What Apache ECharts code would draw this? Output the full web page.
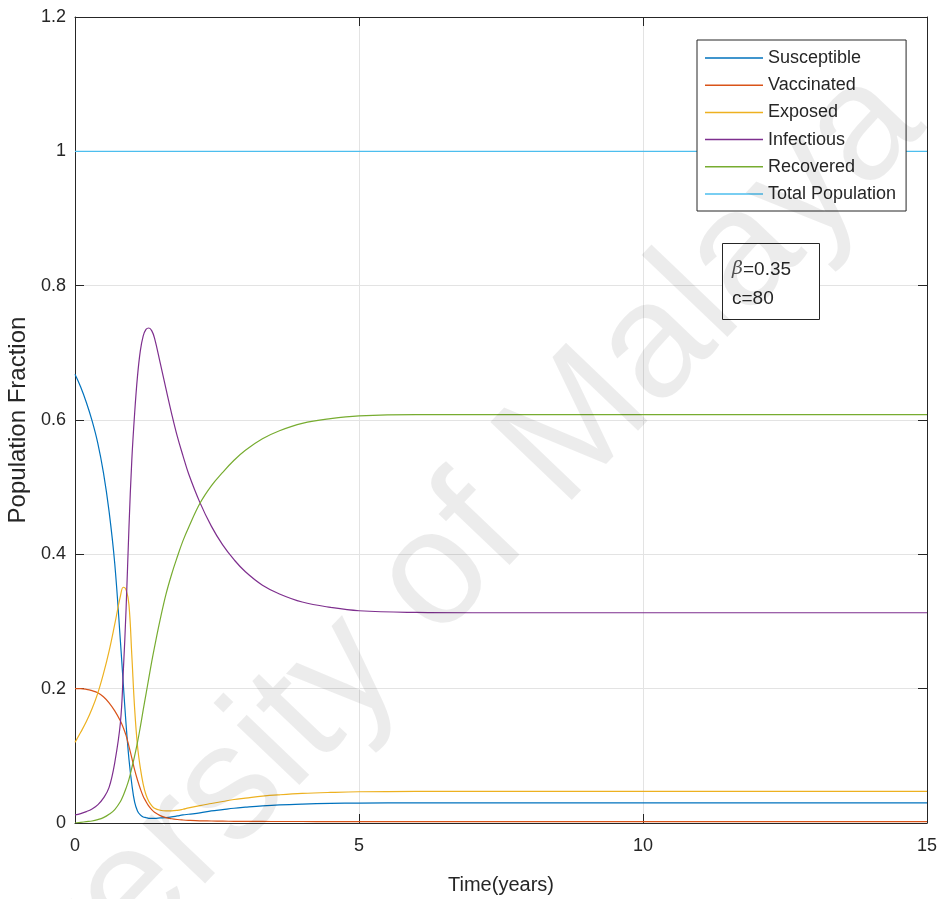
<!DOCTYPE html>
<html>
<head>
<meta charset="utf-8">
<script src="https://cdn.jsdelivr.net/npm/echarts@6/dist/echarts.min.js"></script>
<style>
  html, body { margin: 0; padding: 0; background: #fff; }
  #chart { width: 946px; height: 899px; }
</style>
</head>
<body>
<div id="chart"></div>
<script>
// Time samples (years) shared by the compartment curves
const timeYears = [0, 0.1, 0.2, 0.3, 0.4, 0.5, 0.6, 0.7, 0.8, 0.85, 0.9, 0.95, 1.0, 1.05, 1.1, 1.15, 1.2, 1.25, 1.3, 1.35, 1.4, 1.5, 1.6, 1.7, 1.8, 1.9, 2.0, 2.2, 2.4, 2.6, 2.8, 3.0, 3.3, 3.6, 4.0, 4.5, 5, 6, 7, 8, 10, 12, 15];

const susceptible = [0.668, 0.649, 0.626, 0.599, 0.566, 0.522, 0.464, 0.386, 0.27, 0.207, 0.146, 0.095, 0.058, 0.031, 0.018, 0.012, 0.009, 0.008, 0.007, 0.007, 0.007, 0.0075, 0.008, 0.009, 0.0105, 0.012, 0.013, 0.015, 0.018, 0.020, 0.022, 0.0235, 0.0255, 0.027, 0.0282, 0.0292, 0.0297, 0.030, 0.030, 0.030, 0.030, 0.030, 0.030];

const vaccinated = [0.2, 0.2, 0.199, 0.197, 0.194, 0.188, 0.179, 0.167, 0.152, 0.142, 0.13, 0.114, 0.097, 0.079, 0.064, 0.051, 0.040, 0.032, 0.025, 0.020, 0.016, 0.011, 0.008, 0.0063, 0.0052, 0.0045, 0.004, 0.0033, 0.003, 0.0027, 0.0025, 0.0024, 0.0023, 0.0022, 0.0022, 0.0021, 0.0021, 0.002, 0.002, 0.002, 0.002, 0.002, 0.002];

const exposed = [0.12, 0.135, 0.151, 0.17, 0.193, 0.222, 0.256, 0.296, 0.338, 0.351, 0.347, 0.325, 0.25, 0.17, 0.115, 0.082, 0.058, 0.042, 0.032, 0.026, 0.022, 0.019, 0.018, 0.018, 0.0188, 0.0205, 0.0225, 0.026, 0.029, 0.032, 0.035, 0.037, 0.040, 0.042, 0.044, 0.0455, 0.0465, 0.047, 0.0472, 0.0472, 0.0472, 0.0472, 0.0472];

const infectious = [0.012, 0.014, 0.017, 0.021, 0.027, 0.037, 0.053, 0.09, 0.15, 0.225, 0.32, 0.44, 0.54, 0.61, 0.665, 0.703, 0.725, 0.735, 0.737, 0.733, 0.722, 0.685, 0.647, 0.61, 0.576, 0.547, 0.52, 0.477, 0.442, 0.414, 0.392, 0.374, 0.354, 0.341, 0.329, 0.321, 0.316, 0.3135, 0.313, 0.313, 0.313, 0.313, 0.313];

const recovered = [0, 0.001, 0.002, 0.003, 0.005, 0.008, 0.013, 0.020, 0.032, 0.041, 0.052, 0.065, 0.082, 0.10, 0.12, 0.143, 0.168, 0.192, 0.216, 0.24, 0.262, 0.303, 0.34, 0.37, 0.396, 0.42, 0.44, 0.476, 0.502, 0.522, 0.540, 0.555, 0.572, 0.584, 0.595, 0.602, 0.606, 0.608, 0.608, 0.608, 0.608, 0.608, 0.608];

const totalTimes = [0, 15];
const totalPopulation = [1, 1];

const seriesNames = ['Susceptible', 'Vaccinated', 'Exposed', 'Infectious', 'Recovered', 'Total Population'];
const seriesColors = ['#0072BD', '#D95319', '#EDB120', '#7E2F8E', '#77AC30', '#4DBEEE'];

const xTicks = [0, 5, 10, 15];
const yTicks = [0, 0.2, 0.4, 0.6, 0.8, 1, 1.2];

const paramLines = ['β=0.35', 'c=80'];
const watermarkText = 'University of Malaya';

const zip = (xs, ys) => xs.map((x, i) => [x, ys[i]]);
const curveValues = [susceptible, vaccinated, exposed, infectious, recovered];

const FONT = '"Liberation Sans", Arial, Helvetica, sans-serif';
const AXIS = '#262626';

const chart = echarts.init(document.getElementById('chart'), null, { renderer: 'canvas' });

const seriesList = curveValues.map((vals, i) => ({
  name: seriesNames[i],
  type: 'line',
  data: zip(timeYears, vals),
  showSymbol: false,
  smooth: 0.4,
  lineStyle: { width: 1.2, color: seriesColors[i] },
  itemStyle: { color: seriesColors[i] },
  z: 3
}));
seriesList.push({
  name: seriesNames[5],
  type: 'line',
  data: zip(totalTimes, totalPopulation),
  showSymbol: false,
  lineStyle: { width: 1.2, color: seriesColors[5] },
  itemStyle: { color: seriesColors[5] },
  z: 2
});

const baseAxisLine = { show: true, onZero: false, lineStyle: { color: AXIS, width: 1 } };
const baseTick = { show: true, inside: true, length: 9, lineStyle: { color: AXIS, width: 1 } };

chart.setOption({
  animation: false,
  backgroundColor: '#fff',
  grid: { left: 75, right: 19, top: 17, bottom: 76, containLabel: false, outerBoundsMode: 'none' },
  xAxis: [
    {
      type: 'value', min: xTicks[0], max: xTicks[xTicks.length - 1], interval: 5,
      position: 'bottom',
      name: 'Time(years)', nameLocation: 'middle', nameGap: 52,
      nameTextStyle: { fontFamily: FONT, fontSize: 20, color: AXIS },
      axisLine: baseAxisLine, axisTick: baseTick,
      axisLabel: { fontFamily: FONT, fontSize: 18, color: AXIS, margin: 14 },
      splitLine: { show: true, lineStyle: { color: '#e3e3e3', width: 1 } }
    },
    {
      type: 'value', min: xTicks[0], max: xTicks[xTicks.length - 1], interval: 5,
      position: 'top',
      axisLine: baseAxisLine, axisTick: baseTick,
      axisLabel: { show: false }, splitLine: { show: false }
    }
  ],
  yAxis: [
    {
      type: 'value', min: yTicks[0], max: yTicks[yTicks.length - 1], interval: 0.2,
      position: 'left',
      name: 'Population Fraction', nameLocation: 'middle', nameGap: 39, nameRotate: 90,
      nameTextStyle: { fontFamily: FONT, fontSize: 24, color: AXIS },
      axisLine: baseAxisLine, axisTick: baseTick,
      axisLabel: { fontFamily: FONT, fontSize: 18, color: AXIS, margin: 9 },
      splitLine: { show: true, lineStyle: { color: '#e3e3e3', width: 1 } }
    },
    {
      type: 'value', min: yTicks[0], max: yTicks[yTicks.length - 1], interval: 0.2,
      position: 'right',
      axisLine: baseAxisLine, axisTick: baseTick,
      axisLabel: { show: false }, splitLine: { show: false }
    }
  ],
  legend: {
    data: seriesNames,
    orient: 'vertical',
    left: 697, top: 40,
    padding: [8, 10, 7, 8],
    itemGap: 7.2,
    itemWidth: 58, itemHeight: 1.5,
    icon: 'rect',
    backgroundColor: '#fff',
    borderColor: AXIS, borderWidth: 1,
    textStyle: { fontFamily: FONT, fontSize: 18, color: AXIS, lineHeight: 20 },
    z: 10
  },
  series: seriesList,
  graphic: [
    {
      type: 'rect', z: 50, left: 722, top: 243,
      shape: { x: 0, y: 0, width: 97, height: 76 },
      style: { fill: '#fff', stroke: AXIS, lineWidth: 1 }
    },
    {
      type: 'text', z: 51, left: 732, top: 260,
      style: {
        text: '{b|β}{n|' + paramLines[0].slice(1) + '}\n{n|' + paramLines[1] + '}',
        rich: {
          b: { fontFamily: '"DejaVu Serif", serif', fontStyle: 'italic', fontSize: 19, fill: '#555', lineHeight: 29 },
          n: { fontFamily: FONT, fontSize: 19, fill: AXIS, lineHeight: 29 }
        }
      }
    },
    {
      type: 'text', z: 100, silent: true,
      x: 385, y: 630, rotation: 46.3 * Math.PI / 180,
      style: {
        text: watermarkText, fontFamily: FONT, fontSize: 164,
        fill: 'rgba(0,0,0,0.075)', align: 'center', verticalAlign: 'middle'
      }
    }
  ]
});
</script>
</body>
</html>
